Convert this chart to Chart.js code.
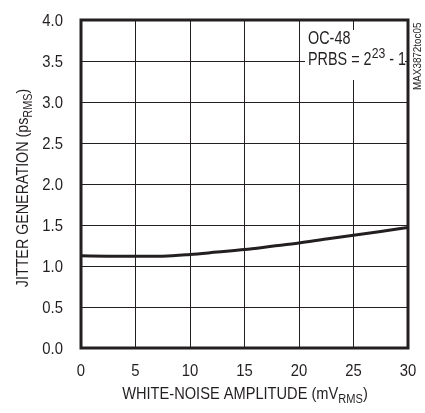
<!DOCTYPE html>
<html>
<head>
<meta charset="utf-8">
<script src="https://cdn.jsdelivr.net/npm/chart.js@4.4.1/dist/chart.umd.min.js"></script>
<style>
    html, body { margin: 0; padding: 0; background: #fff; }
    #wrap { width: 425px; height: 413px; }
</style>
</head>
<body>
<div id="wrap"><canvas id="chart" width="425" height="413"></canvas></div>
<script>
// values
const noiseAmplitude = [0, 2.5, 5, 7.5, 10, 12.5, 15, 17.5, 20, 22.5, 25, 27.5, 30];
const jitterGeneration = [1.125, 1.12, 1.118, 1.12, 1.14, 1.17, 1.2, 1.24, 1.28, 1.33, 1.375, 1.42, 1.47];
const xTicks = [0, 5, 10, 15, 20, 25, 30];
const yTicks = [0, 0.5, 1, 1.5, 2, 2.5, 3, 3.5, 4];

const FONT = '"Liberation Sans", Arial, sans-serif';
const INK = '#231f20';

// the reference uses a narrow sans; squeeze a regular one horizontally
const runsWidth = (ctx, runs, size, k) => {
    let w = 0;
    runs.forEach(r => {
        ctx.font = (r.small ? size * r.small : size) + 'px ' + FONT;
        w += ctx.measureText(r.t).width * k;
    });
    return w;
};
const drawRuns = (ctx, runs, x, y, size, k) => {
    runs.forEach(r => {
        const s = r.small ? size * r.small : size;
        ctx.font = s + 'px ' + FONT;
        const dy = r.sub ? size * 0.25 : r.sup ? -size * 0.36 : 0;
        ctx.save();
        ctx.translate(x, y + dy);
        ctx.scale(k, 1);
        ctx.fillText(r.t, 0, 0);
        ctx.restore();
        x += ctx.measureText(r.t).width * k;
    });
    return x;
};

const decorations = {
    id: 'decorations',
    afterDraw(chart) {
        const { ctx, chartArea: a, scales } = chart;
        ctx.save();
        ctx.fillStyle = INK;
        ctx.textBaseline = 'alphabetic';
        ctx.textAlign = 'left';

        // tick labels
        const tSize = 16.5, tK = 0.9;
        scales.y.ticks.forEach(t => {
            const runs = [{ t: t.value.toFixed(1) }];
            const w = runsWidth(ctx, runs, tSize, tK);
            drawRuns(ctx, runs, 63 - w, scales.y.getPixelForValue(t.value) + 6, tSize, tK);
        });
        scales.x.ticks.forEach(t => {
            const runs = [{ t: String(t.value) }];
            const w = runsWidth(ctx, runs, tSize, tK);
            drawRuns(ctx, runs, scales.x.getPixelForValue(t.value) - w / 2, 376, tSize, tK);
        });

        // note box
        ctx.fillStyle = '#fff';
        ctx.fillRect(305, 30, 100, 50);
        ctx.fillStyle = INK;
        drawRuns(ctx, [{ t: 'OC-48' }], 308, 43.5, 18, 0.8);
        drawRuns(ctx, [{ t: 'PRBS = 2' }, { t: '23', small: 0.85, sup: true }, { t: ' - 1' }], 308, 64.5, 18, 0.8);

        // outer frame
        ctx.strokeStyle = INK;
        ctx.lineWidth = 3;
        ctx.strokeRect(a.left, a.top, a.right - a.left, a.bottom - a.top);

        // x title
        const xRuns = [{ t: 'WHITE-NOISE AMPLITUDE (mV' }, { t: 'RMS', small: 0.76, sub: true }, { t: ')' }];
        const xw = runsWidth(ctx, xRuns, 17, 0.86);
        drawRuns(ctx, xRuns, 245 - xw / 2, 399, 17, 0.86);

        // y title
        const yRuns = [{ t: 'JITTER GENERATION (ps' }, { t: 'RMS', small: 0.76, sub: true }, { t: ')' }];
        const yw = runsWidth(ctx, yRuns, 17, 0.84);
        ctx.save();
        ctx.translate(28, 188);
        ctx.rotate(-Math.PI / 2);
        drawRuns(ctx, yRuns, -yw / 2, 0, 17, 0.84);
        ctx.restore();

        // figure code
        ctx.save();
        ctx.translate(420.5, 90);
        ctx.rotate(-Math.PI / 2);
        drawRuns(ctx, [{ t: 'MAX3872toc05' }], 0, 0, 10.5, 0.94);
        ctx.restore();

        ctx.restore();
    }
};

new Chart(document.getElementById('chart'), {
    type: 'line',
    data: {
        datasets: [{
            data: noiseAmplitude.map((x, i) => ({ x, y: jitterGeneration[i] })),
            borderColor: INK,
            borderWidth: 3,
            pointRadius: 0,
            cubicInterpolationMode: 'monotone',
            fill: false,
        }]
    },
    options: {
        responsive: false,
        animation: false,
        layout: { padding: { left: 0, right: 17, top: 20, bottom: 0 } },
        plugins: { legend: { display: false }, tooltip: { enabled: false } },
        scales: {
            x: {
                type: 'linear',
                min: 0,
                max: 30,
                afterBuildTicks: s => { s.ticks = xTicks.map(v => ({ value: v })); },
                afterFit: s => { s.height = 65; },
                grid: { color: INK, lineWidth: 1, drawTicks: false },
                border: { display: false },
                ticks: { display: false },
            },
            y: {
                min: 0,
                max: 4,
                afterBuildTicks: s => { s.ticks = yTicks.map(v => ({ value: v })); },
                afterFit: s => { s.width = 81; },
                grid: { color: INK, lineWidth: 1, drawTicks: false },
                border: { display: false },
                ticks: { display: false },
            }
        }
    },
    plugins: [decorations]
});
</script>
</body>
</html>
